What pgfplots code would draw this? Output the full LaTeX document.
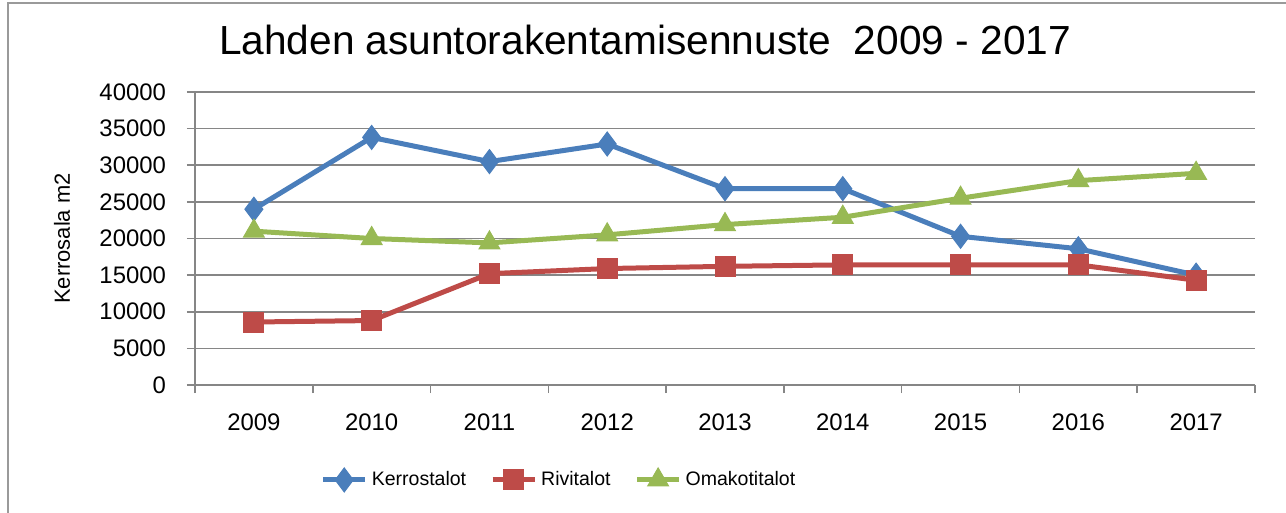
\documentclass[border=0pt]{standalone}
\usepackage{fontspec}
\setmainfont{Liberation Sans}
\usepackage{pgfplots}
\pgfplotsset{compat=1.18}
\definecolor{kerros}{HTML}{4A7EBB}
\definecolor{rivi}{HTML}{BE4B48}
\definecolor{omakoti}{HTML}{98B954}
\definecolor{gridgray}{HTML}{868686}
\definecolor{framegray}{HTML}{9A9A9A}

\begin{document}
\begin{tikzpicture}
\useasboundingbox (-97.5bp,-64bp) rectangle (545.5bp,192.5bp);
% outer chart frame (only top and left are in view)
\draw[framegray, line width=1.2bp] (-93.5bp,-70bp) -- (-93.5bp,191bp) -- (560bp,191bp);

\begin{axis}[
    at={(0,0)}, anchor=south west,
    scale only axis, width=530bp, height=146.5bp,
    xmin=-0.5, xmax=8.5, ymin=0, ymax=40000,
    xtick={-0.5,0.5,1.5,2.5,3.5,4.5,5.5,6.5,7.5,8.5},
    x tick label as interval,
    xticklabels={2009,2010,2011,2012,2013,2014,2015,2016,2017},
    ytick={0,5000,...,40000},
    scaled y ticks=false,
    /pgf/number format/1000 sep={},
    /pgf/number format/assume math mode=true,
    ymajorgrids, grid style={gridgray, line width=0.8bp},
    axis x line*=bottom, axis y line*=left,
    axis line style={gridgray, line width=0.8bp, -},
    tick style={gridgray, line width=0.8bp},
    tick align=outside, major tick length=4bp,
    ticklabel style={font=\fontsize{12}{14}\selectfont, text=black},
    xticklabel style={yshift=-7bp},
    yticklabel style={xshift=-7bp},
    ylabel={Kerrosala m2},
    ylabel style={at={(axis description cs:-0.1255,0.5)}, anchor=center,
        font=\fontsize{11}{13}\selectfont},
    legend style={at={(0.3434,-0.324)}, anchor=center, draw=none,
        font=\fontsize{9.8}{12}\selectfont, nodes={inner sep=1bp},
        /tikz/every odd column/.append style={column sep=1bp},
        /tikz/every even column/.append style={column sep=11bp}},
    legend columns=3,
    legend image code/.code={
        \draw[mark repeat=2, mark phase=2] plot coordinates {(0bp,0bp) (10.5bp,0bp) (21bp,0bp)};},
    every axis plot/.append style={line width=2.5bp},
]
\addplot[kerros, mark=diamond*, mark size=6bp, mark options={fill=kerros, line width=0.5bp}]
    coordinates {(0,24000) (1,33800) (2,30500) (3,32900) (4,26800) (5,26800) (6,20300) (7,18600) (8,15000)};
\addplot[rivi, mark=square*, mark size=5bp, mark options={fill=rivi, line width=0.5bp}]
    coordinates {(0,8600) (1,8800) (2,15200) (3,15900) (4,16200) (5,16400) (6,16400) (7,16400) (8,14300)};
\addplot[omakoti, mark=triangle*, mark size=6bp, mark options={fill=omakoti, line width=0.5bp}]
    coordinates {(0,21000) (1,20000) (2,19400) (3,20500) (4,21900) (5,22900) (6,25500) (7,27900) (8,28900)};
\legend{Kerrostalot, Rivitalot, Omakotitalot}
\end{axis}

\node[font=\fontsize{20.4}{24}\selectfont, anchor=base] at (225bp,165bp)
    {Lahden asuntorakentamisennuste\ \ 2009 - 2017};
\end{tikzpicture}
\end{document}
